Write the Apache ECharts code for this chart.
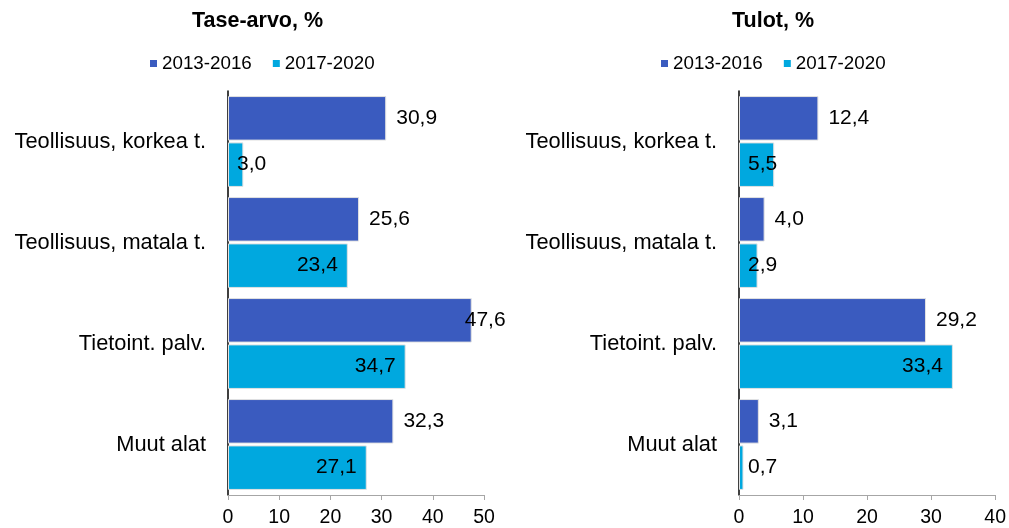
<!DOCTYPE html>
<html>
<head>
<meta charset="utf-8">
<script src="https://cdn.jsdelivr.net/npm/echarts@6/dist/echarts.min.js"></script>
<style>html,body{margin:0;padding:0;background:#fff;}#c{width:1009px;height:528px;}</style>
</head>
<body>
<div id="c"></div>
<script>
const categories = ['Teollisuus, korkea t.', 'Teollisuus, matala t.', 'Tietoint. palv.', 'Muut alat'];
const seriesNames = ['2013-2016', '2017-2020'];
const taseEarly = [30.9, 25.6, 47.6, 32.3];
const taseLate = [3.0, 23.4, 34.7, 27.1];
const tulotEarly = [12.4, 4.0, 29.2, 3.1];
const tulotLate = [5.5, 2.9, 33.4, 0.7];
const leftTitle = 'Tase-arvo, %';
const rightTitle = 'Tulot, %';
const leftMax = 50, rightMax = 40, tickStep = 10;

const C1 = '#3A5BBF', C2 = '#00A8DF';
const FONT = 'Liberation Sans, Arial, sans-serif';
const plotW = 256;
const fmt = v => v.toFixed(1).replace('.', ',');

function earlyData(vals, max) {
  return vals.map(v => {
    const px = v / max * plotW;
    const item = { value: v };
    if (px + 10 + 42 > plotW + 14) item.label = { distance: -7 };
    return item;
  });
}
function lateData(vals, max) {
  return vals.map(v => {
    const px = v / max * plotW;
    const item = { value: v };
    if (px < 55) item.label = { position: 'insideLeft', distance: 9 };
    return item;
  });
}
function barSeries(name, color, data, idx, pos, dist) {
  return {
    type: 'bar', name: name, xAxisIndex: idx, yAxisIndex: idx,
    data: data, barGap: '4%', barCategoryGap: '10%',
    itemStyle: { color: color, borderColor: '#e2e2e2', borderWidth: 1 },
    label: { show: true, position: pos, distance: dist, color: '#000', fontSize: 21, fontFamily: FONT,
             formatter: p => fmt(p.value) },
    emphasis: { disabled: true }
  };
}
function xAx(idx, max) {
  return {
    type: 'value', gridIndex: idx, min: 0, max: max, interval: tickStep,
    axisLine: { show: true, lineStyle: { color: '#a6a6a6', width: 1 } },
    axisTick: { show: true, length: 5, lineStyle: { color: '#a6a6a6' } },
    splitLine: { show: false },
    axisLabel: { color: '#000', fontSize: 19.5, fontFamily: FONT, margin: 13 }
  };
}
function yAx(idx) {
  return {
    type: 'category', gridIndex: idx, data: categories, inverse: true,
    axisLine: { show: true, lineStyle: { color: '#000', width: 1.5 } },
    axisTick: { show: false },
    axisLabel: { color: '#000', fontSize: 21.8, fontFamily: FONT, margin: 22 }
  };
}
function legend(left) {
  return {
    left: left, top: 49, icon: 'rect', itemWidth: 7, itemHeight: 7, itemGap: 21,
    data: seriesNames, selectedMode: false,
    itemStyle: { borderWidth: 0 },
    textStyle: { color: '#000', fontSize: 18.8, fontFamily: FONT }
  };
}

const chart = echarts.init(document.getElementById('c'), null, { renderer: 'canvas' });
chart.setOption({
  animation: false,
  title: [
    { text: leftTitle, left: 187, top: 5, textStyle: { fontSize: 21.5, fontWeight: 'bold', color: '#000', fontFamily: FONT } },
    { text: rightTitle, left: 727, top: 5, textStyle: { fontSize: 21.5, fontWeight: 'bold', color: '#000', fontFamily: FONT } }
  ],
  legend: [legend(145), legend(656)],
  grid: [
    { left: 228, right: 525, top: 91, bottom: 33 },
    { left: 739, right: 13, top: 91, bottom: 33 }
  ],
  xAxis: [xAx(0, leftMax), xAx(1, rightMax)],
  yAxis: [yAx(0), yAx(1)],
  series: [
    barSeries(seriesNames[0], C1, earlyData(taseEarly, leftMax), 0, 'right', 10),
    barSeries(seriesNames[1], C2, lateData(taseLate, leftMax), 0, 'insideRight', 10),
    barSeries(seriesNames[0], C1, earlyData(tulotEarly, rightMax), 1, 'right', 10),
    barSeries(seriesNames[1], C2, lateData(tulotLate, rightMax), 1, 'insideRight', 10)
  ]
});
</script>
</body>
</html>
